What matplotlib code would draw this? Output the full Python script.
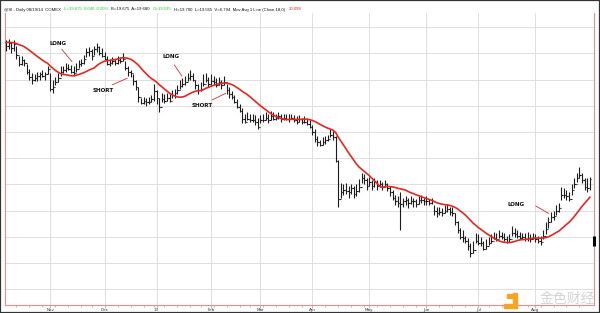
import numpy as np
import pandas as pd
import matplotlib
matplotlib.use("Agg")
import matplotlib.pyplot as plt
from matplotlib.patches import Rectangle
from matplotlib.transforms import blended_transform_factory

# daily silver bars (COMEX), Oct 2012 - Aug 2013
high = [
    35.0, 35.1, 34.9, 35.0, 34.6, 33.8, 33.8, 33.6, 33.2, 32.8,
    32.5, 32.4, 32.6, 32.6, 32.7, 32.6, 33.0, 32.5, 32.0,
    32.2, 32.5, 33.0, 33.0, 33.3, 33.2, 33.1, 33.0, 33.3, 33.5,
    33.6, 33.9, 34.4, 34.5, 34.3, 34.6, 34.8, 34.6, 34.4, 34.1,
    33.8, 33.6, 33.7, 33.6, 33.8, 33.7, 34.0, 33.4, 33.0, 32.7,
    32.4, 32.0, 31.4, 30.6, 30.7, 30.6, 30.7, 30.8, 31.7,
    31.2, 30.6, 31.0, 30.9, 31.0, 30.9, 31.2, 31.3, 31.6, 32.0,
    32.1, 32.3, 32.5, 32.7, 32.5, 32.0, 31.7, 31.8, 32.4, 32.5,
    32.2, 32.4, 32.3, 32.1, 32.2, 32.0, 32.3, 31.7, 31.4, 31.1,
    30.8, 30.5, 30.1, 29.8, 29.4, 29.5, 29.4, 29.4, 29.3,
    29.1, 29.3, 29.4, 29.5, 29.4, 29.6, 29.5, 29.4, 29.5, 29.4,
    29.4, 29.4, 29.4, 29.4, 29.3, 29.2, 29.3, 29.1, 29.2, 29.1,
    28.9, 28.5, 28.2, 27.7, 27.4, 27.6, 27.7, 27.8, 28.2, 28.1,
    27.7, 25.9, 24.1, 24.0, 24.1, 23.9, 24.0, 23.9, 24.0, 24.4,
    24.9, 24.8, 24.5, 24.6, 24.3, 24.5, 24.3, 24.3, 24.2,
    24.3, 24.1, 23.9, 23.6, 23.2, 23.1, 23.4, 23.0, 23.1, 23.0,
    23.1, 23.0, 22.9, 23.1, 23.2, 23.0, 23.1, 22.9, 23.0,
    22.4, 22.3, 22.3, 22.2, 22.4, 22.5, 22.3, 22.3, 21.8, 21.2,
    20.7, 20.5, 20.1, 19.9, 19.5, 19.7, 20.3, 20.2, 20.0, 19.7,
    19.8, 20.0, 20.2, 20.4, 20.3, 20.5, 20.4, 20.3, 20.1, 20.2,
    20.8, 20.7, 20.5, 20.4, 20.3, 20.3, 20.4, 20.2, 20.3,
    20.2, 20.1, 20.1, 20.5, 21.1, 21.5, 21.9, 22.0, 22.4, 22.6,
    23.8, 23.7, 23.6, 23.4, 24.0, 24.5, 24.9, 25.3, 24.9,
    24.5, 24.5, 24.6,
]
low = [
    34.2, 34.3, 34.0, 34.2, 33.6, 33.0, 33.1, 33.0, 32.4, 32.0,
    31.7, 31.9, 31.9, 32.0, 32.2, 32.0, 32.4, 31.1, 31.0,
    31.6, 31.8, 32.3, 32.5, 32.6, 32.7, 32.5, 32.3, 32.6, 32.9,
    33.0, 33.2, 33.7, 33.8, 33.5, 33.9, 34.1, 33.9, 33.7, 33.5,
    33.1, 33.0, 33.2, 33.1, 33.2, 33.3, 33.4, 32.7, 32.3, 32.2,
    31.6, 31.2, 30.3, 30.1, 30.1, 30.0, 30.1, 30.3, 30.4,
    30.1, 29.5, 30.3, 30.2, 30.4, 30.3, 30.6, 30.6, 30.9, 31.3,
    31.4, 31.6, 31.9, 32.0, 31.9, 31.3, 30.9, 31.1, 31.5, 31.8,
    31.4, 31.6, 31.6, 31.4, 31.6, 31.3, 31.6, 30.9, 30.6, 30.5,
    30.2, 29.8, 29.5, 28.7, 28.7, 28.9, 28.8, 28.8, 28.5,
    28.2, 28.7, 28.8, 28.9, 28.7, 28.9, 28.9, 28.9, 29.0, 28.8,
    28.9, 28.9, 28.8, 29.0, 28.8, 28.6, 28.8, 28.6, 28.7, 28.5,
    28.3, 27.8, 27.2, 26.9, 26.9, 27.0, 27.1, 27.3, 27.6, 27.4,
    25.7, 22.3, 23.0, 23.2, 23.3, 23.0, 23.3, 23.0, 23.1, 23.4,
    24.1, 24.0, 23.6, 23.9, 23.6, 23.8, 23.6, 23.8, 23.6,
    23.8, 23.5, 23.1, 22.8, 22.4, 22.3, 20.5, 22.3, 22.4, 22.2,
    22.5, 22.3, 22.3, 22.5, 22.6, 22.4, 22.4, 22.4, 22.5,
    21.7, 21.5, 21.7, 21.6, 21.8, 21.9, 21.7, 21.6, 20.9, 20.3,
    19.8, 19.6, 19.5, 19.0, 18.5, 18.8, 19.5, 19.4, 19.3, 19.0,
    19.1, 19.4, 19.5, 19.8, 19.7, 19.9, 19.8, 19.7, 19.5, 19.6,
    20.1, 20.0, 19.9, 19.8, 19.8, 19.7, 19.7, 19.6, 19.8,
    19.6, 19.5, 19.4, 19.8, 20.2, 20.7, 21.1, 21.3, 21.7, 21.9,
    22.8, 23.0, 22.8, 22.7, 23.2, 23.7, 24.2, 24.5, 24.1,
    23.6, 23.4, 23.6,
]
close = [
    34.6, 34.8, 34.4, 34.7, 33.9, 33.2, 33.5, 33.3, 32.6, 32.2,
    32.0, 32.1, 32.3, 32.4, 32.3, 32.4, 32.8, 31.3, 31.4,
    31.8, 32.1, 32.6, 32.7, 32.9, 32.8, 32.6, 32.5, 32.8, 33.2,
    33.3, 33.6, 34.1, 34.2, 33.8, 34.3, 34.5, 34.0, 33.8, 33.6,
    33.2, 33.3, 33.4, 33.3, 33.5, 33.4, 33.6, 32.9, 32.6, 32.5,
    31.9, 31.4, 30.7, 30.2, 30.4, 30.3, 30.3, 30.5, 31.1,
    30.6, 29.9, 30.5, 30.4, 30.6, 30.4, 30.8, 31.0, 31.2, 31.5,
    31.7, 31.8, 32.1, 32.3, 32.0, 31.6, 31.2, 31.3, 31.7, 32.0,
    31.7, 31.9, 31.8, 31.6, 31.8, 31.6, 31.8, 31.2, 30.9, 30.7,
    30.3, 29.9, 29.6, 29.0, 28.8, 29.0, 28.9, 28.9, 28.8,
    28.4, 28.9, 28.9, 29.1, 28.9, 29.2, 29.0, 29.1, 29.2, 29.0,
    29.1, 29.0, 29.0, 29.1, 28.9, 28.8, 29.0, 28.8, 28.8, 28.6,
    28.4, 28.0, 27.5, 27.2, 27.0, 27.2, 27.4, 27.5, 27.8, 27.6,
    25.8, 22.9, 23.4, 23.6, 23.5, 23.4, 23.7, 23.3, 23.5, 23.8,
    24.5, 24.3, 23.9, 24.2, 23.9, 24.2, 23.9, 24.0, 23.8,
    24.0, 23.7, 23.4, 23.0, 22.7, 22.6, 22.5, 22.7, 22.8, 22.6,
    22.7, 22.7, 22.5, 22.8, 22.8, 22.7, 22.7, 22.6, 22.7,
    22.0, 21.8, 21.9, 21.8, 22.0, 22.1, 21.9, 21.8, 21.1, 20.5,
    20.0, 19.9, 19.7, 19.3, 18.8, 19.0, 19.7, 19.5, 19.5, 19.1,
    19.3, 19.5, 19.7, 19.9, 19.8, 20.1, 20.0, 19.8, 19.6, 19.8,
    20.3, 20.2, 20.1, 19.9, 20.0, 19.8, 19.9, 19.8, 19.9,
    19.8, 19.7, 19.6, 20.1, 20.6, 21.1, 21.5, 21.6, 22.0, 22.2,
    23.2, 23.2, 23.1, 22.9, 23.6, 24.0, 24.5, 24.7, 24.3,
    23.8, 23.7, 24.4,
]
# closes before the first visible bar, only used to seed the moving average
warmup_close = [34.5, 34.7, 34.9, 35.1, 34.8, 34.6, 34.9, 35.0, 34.8,
                34.7, 34.9, 35.1, 35.0, 34.8, 34.9, 34.7, 34.9]
ma_length = 18
last_price = 19.675

holidays = ["2012-11-22", "2012-12-25", "2013-01-01", "2013-01-21",
            "2013-02-18", "2013-03-29", "2013-05-27", "2013-07-04"]

# (text, text pos, line start, line end) in (bar index, price)
notes = [
    ("LONG", (19.9, 34.76), (21.5, 34.31), (25.4, 33.37)),
    ("SHORT", (37.5, 31.2), (40.9, 31.6), (46.7, 32.1)),
    ("LONG", (63.7, 33.73), (64.9, 33.11), (67.8, 32.27)),
    ("SHORT", (75.7, 30.06), (79.4, 30.44), (84.6, 30.95)),
    ("LONG", (196.5, 22.5), (204.2, 22.35), (209.1, 21.79)),
]

header = [
    ("@SI - Daily 08/19/14  COMEX", "#111111"),
    ("L=19.675  0.040  0.20%", "#22cc22"),
    ("B=19.675  A=19.680", "#111111"),
    ("O=19.595", "#22cc22"),
    ("H=19.700  L=19.555  V=6,794  Mov Avg 1 Line (Close,18,0)", "#111111"),
    ("20.098", "#e02020"),
]

assert len(high) == len(low) == len(close)

W, H = 600, 313
fig = plt.figure(figsize=(W / 100, H / 100), dpi=100)
fig.patch.set_facecolor("white")
ax = fig.add_axes([5 / W, (H - 305) / H, 589 / W, 292 / H])

n = len(close)
x = np.arange(n)
opens = [warmup_close[-1]] + close[:-1]

cbd = pd.offsets.CustomBusinessDay(holidays=holidays)
dates = pd.date_range("2012-10-09", periods=n, freq=cbd)

full = pd.Series(warmup_close + close)
ma = full.rolling(ma_length).mean().iloc[len(warmup_close):].to_numpy()

bar_col = "#1c1c1c"
ax.vlines(x, low, high, color=bar_col, lw=0.8, zorder=3)
ax.hlines(opens, x - 0.5, x, color=bar_col, lw=0.8, zorder=3)
ax.hlines(close, x, x + 0.5, color=bar_col, lw=0.8, zorder=3)
ax.plot(x, ma, color="#e32822", lw=1.2, zorder=4)

for label, tpos, p0, p1 in notes:
    ax.text(tpos[0], tpos[1], label, fontsize=4.1, fontweight="bold",
            ha="center", va="center", color="#111111", zorder=5)
    ax.plot([p0[0], p1[0]], [p0[1], p1[1]], color="#d03030", lw=0.6, zorder=5)

ax.set_xlim(-0.4, 226.6)
ax.set_ylim(14.8, 37.08)

# month gridlines / labels
month_idx = [i for i in range(1, n) if dates[i].month != dates[i - 1].month]
month_lab = ["13" if dates[i].month == 1 else dates[i].strftime("%b") for i in month_idx]
week_idx = [i for i in range(1, n) if dates[i].weekday() < dates[i - 1].weekday()]
ax.set_xticks(month_idx)
ax.set_xticklabels(month_lab, fontsize=3.0, color="#333333")
ax.set_xticks(week_idx, minor=True)
ax.tick_params(axis="x", which="major", length=2.0, width=0.5, color="#e08080", pad=0.4)
ax.tick_params(axis="x", which="minor", length=1.5, width=0.5, color="#e08080")
ax.set_yticks(np.arange(16, 37, 2))
ax.tick_params(axis="y", length=0, labelleft=False)
ax.grid(True, which="major", color="#dedede", lw=0.7, zorder=0)

for side in ["left", "right", "bottom"]:
    ax.spines[side].set_color("#f08a8a")
    ax.spines[side].set_linewidth(0.8)
ax.spines["top"].set_visible(False)

# current price marker on right edge
tr = blended_transform_factory(ax.transAxes, ax.transData)
ax.plot([1.0], [last_price], transform=tr, marker="|", ms=7, mew=2.2,
        color="black", clip_on=False, zorder=6)

# header line, laid out piece by piece
renderer = fig.canvas.get_renderer()
px = 4
for txt, col in header:
    t = fig.text(px / W, 1 - 9.5 / H, txt, fontsize=3.1, color=col,
                 family="Liberation Sans", ha="left", va="center")
    px += t.get_window_extent(renderer).width + 3

# watermark
for (x0, y0, w, h) in [(507, 294, 5, 4), (513, 293, 4, 15), (504, 304, 13, 4)]:
    fig.patches.append(Rectangle((x0 / W, 1 - (y0 + h) / H), w / W, h / H,
                                 transform=fig.transFigure, color="#f5a524", zorder=10))
fig.text(567 / W, 1 - 299 / H, "金色财经", fontsize=10, color="#d4d4d4",
         family=["Noto Sans CJK SC", "DejaVu Sans"], ha="center", va="center", zorder=10)

fig.patches.append(Rectangle((0, 0), 1, 1, transform=fig.transFigure, fill=False,
                             edgecolor="#333333", lw=1.6, zorder=20))

fig.savefig("out.png", dpi=100)
